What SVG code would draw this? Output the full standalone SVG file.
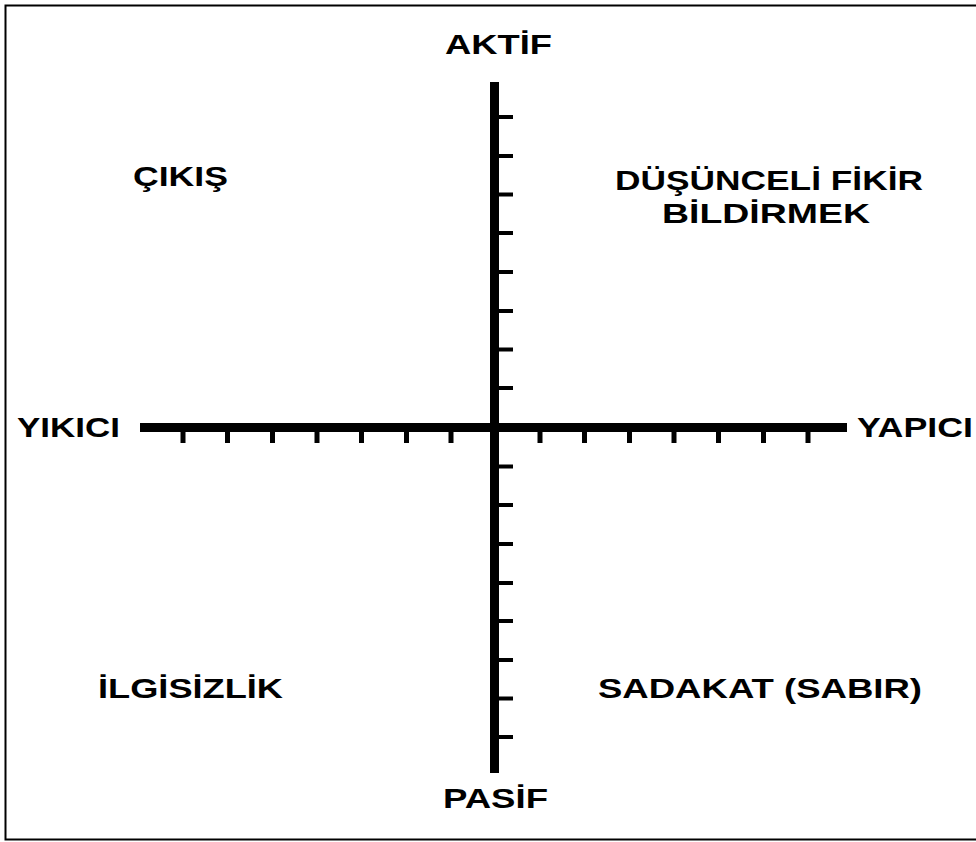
<svg xmlns="http://www.w3.org/2000/svg" width="976" height="842" viewBox="0 0 976 842">
<style>
.lbl{font-family:"Liberation Sans",Arial,sans-serif;font-weight:bold;font-size:28px;fill:#000}
.ax{fill:#000}
</style>
<rect x="0" y="0" width="976" height="842" fill="#fff"/>
<rect x="5.5" y="5.5" width="980" height="834" fill="none" stroke="#000" stroke-width="2"/>
<g id="connectors">
  <rect class="ax" x="490" y="82" width="9" height="691"/>
  <rect class="ax" x="140" y="423" width="707" height="9"/>
  <g id="vticks" class="ax">
    <rect x="499" y="115" width="14" height="4"/>
    <rect x="499" y="154" width="14" height="4"/>
    <rect x="499" y="192.5" width="14" height="4"/>
    <rect x="499" y="231" width="14" height="4"/>
    <rect x="499" y="270" width="14" height="4"/>
    <rect x="499" y="309" width="14" height="4"/>
    <rect x="499" y="347.5" width="14" height="4"/>
    <rect x="499" y="386" width="14" height="4"/>
    <rect x="499" y="464.5" width="14" height="4"/>
    <rect x="499" y="503" width="14" height="4"/>
    <rect x="499" y="542" width="14" height="4"/>
    <rect x="499" y="581" width="14" height="4"/>
    <rect x="499" y="619" width="14" height="4"/>
    <rect x="499" y="658" width="14" height="4"/>
    <rect x="499" y="696.5" width="14" height="4"/>
    <rect x="499" y="735" width="14" height="4"/>
  </g>
  <g id="hticks" class="ax">
    <rect x="180.5" y="432" width="5" height="11"/>
    <rect x="225" y="432" width="5" height="11"/>
    <rect x="270" y="432" width="5" height="11"/>
    <rect x="314.5" y="432" width="5" height="11"/>
    <rect x="359" y="432" width="5" height="11"/>
    <rect x="404" y="432" width="5" height="11"/>
    <rect x="448.5" y="432" width="5" height="11"/>
    <rect x="537.5" y="432" width="5" height="11"/>
    <rect x="582" y="432" width="5" height="11"/>
    <rect x="627" y="432" width="5" height="11"/>
    <rect x="671.5" y="432" width="5" height="11"/>
    <rect x="716" y="432" width="5" height="11"/>
    <rect x="761" y="432" width="5" height="11"/>
    <rect x="805.5" y="432" width="5" height="11"/>
  </g>
</g>
<g id="aktif"><text class="lbl" x="445" y="54" textLength="107" lengthAdjust="spacingAndGlyphs">AKTİF</text></g>
<g id="pasif"><text class="lbl" x="443" y="808" textLength="105" lengthAdjust="spacingAndGlyphs">PASİF</text></g>
<g id="yikici"><text class="lbl" x="17" y="437" textLength="103" lengthAdjust="spacingAndGlyphs">YIKICI</text></g>
<g id="yapici"><text class="lbl" x="857" y="437" textLength="116" lengthAdjust="spacingAndGlyphs">YAPICI</text></g>
<g id="cikis"><text class="lbl" x="133" y="186" textLength="95" lengthAdjust="spacingAndGlyphs">ÇIKIŞ</text></g>
<g id="dusunceli">
  <text class="lbl" x="615" y="190" textLength="308" lengthAdjust="spacingAndGlyphs">DÜŞÜNCELİ FİKİR</text>
  <text class="lbl" x="662" y="223" textLength="208" lengthAdjust="spacingAndGlyphs">BİLDİRMEK</text>
</g>
<g id="ilgisizlik"><text class="lbl" x="98" y="698" textLength="185" lengthAdjust="spacingAndGlyphs">İLGİSİZLİK</text></g>
<g id="sadakat"><text class="lbl" x="598" y="698" textLength="324" lengthAdjust="spacingAndGlyphs">SADAKAT (SABIR)</text></g>
</svg>
